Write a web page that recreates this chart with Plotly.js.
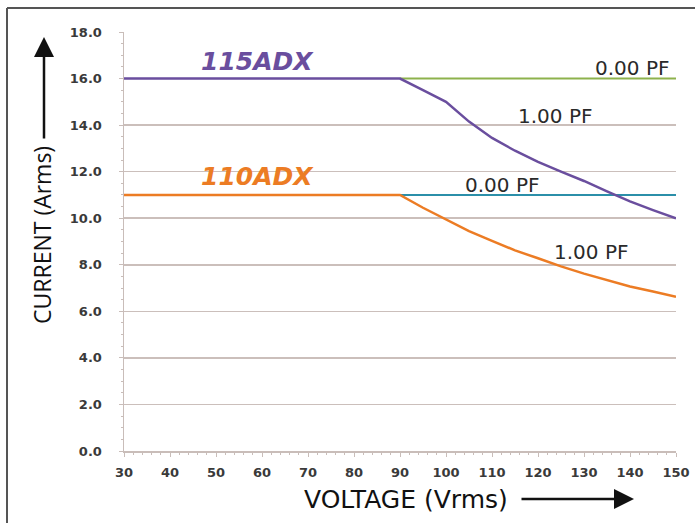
<!DOCTYPE html>
<html>
<head>
<meta charset="utf-8">
<script src="https://cdn.plot.ly/plotly-3.0.1.min.js"></script>
<style>
  html, body { margin: 0; padding: 0; background: #ffffff; }
  #chart { width: 695px; height: 523px; }
</style>
</head>
<body>
<div id="chart"></div>
<script>
// Voltage (Vrms) sample points
const voltage = [30, 90, 95, 100, 105, 110, 115, 120, 125, 130, 135, 140, 145, 150];
// 115ADX, 1.00 PF current (Arms)
const current115pf100 = [16.0, 16.0, 15.5, 15.0, 14.15, 13.45, 12.9, 12.42, 12.0, 11.6, 11.15, 10.72, 10.35, 10.0];
// 110ADX, 1.00 PF current (Arms)
const current110pf100 = [11.0, 11.0, 10.45, 9.95, 9.45, 9.03, 8.62, 8.28, 7.93, 7.62, 7.34, 7.07, 6.85, 6.63];
// 0.00 PF lines
const voltagePf0 = [90, 150];
const current115pf0 = [16.0, 16.0];
const current110pf0 = [11.0, 11.0];

const xTicks = [30, 40, 50, 60, 70, 80, 90, 100, 110, 120, 130, 140, 150];
const yTicks = [0, 2, 4, 6, 8, 10, 12, 14, 16, 18];

const seriesLabels = ['115ADX', '110ADX', '0.00 PF', '1.00 PF', '0.00 PF', '1.00 PF'];

const traces = [
  { x: voltagePf0, y: current115pf0, mode: 'lines', line: { color: '#8db24c', width: 2 }, name: '115ADX 0.00 PF' },
  { x: voltagePf0, y: current110pf0, mode: 'lines', line: { color: '#2b8fa9', width: 2 }, name: '110ADX 0.00 PF' },
  { x: voltage, y: current115pf100, mode: 'lines', line: { color: '#6a4e9e', width: 2.5 }, name: '115ADX 1.00 PF' },
  { x: voltage, y: current110pf100, mode: 'lines', line: { color: '#ec7c24', width: 2.5 }, name: '110ADX 1.00 PF' }
];

const W = 552, H = 419, L = 124, T = 32;
function px(x) { return (x - L) / W; }
function py(y) { return (T + H - y) / H; }

const labelFont = { family: 'DejaVu Sans', size: 20, color: '#2a2a2a' };
const mid = { xanchor: 'center', yanchor: 'middle', showarrow: false };

const layout = {
  width: 695, height: 523,
  margin: { l: 124, r: 19, t: 32, b: 72, pad: 0 },
  paper_bgcolor: '#ffffff', plot_bgcolor: '#ffffff',
  showlegend: false,
  xaxis: {
    range: [30, 150], tickvals: xTicks, ticktext: xTicks.map(String),
    showgrid: false, zeroline: false,
    showline: true, linecolor: '#c9bdb9', linewidth: 1.5,
    ticks: 'outside', ticklen: 4, tickcolor: '#c9bdb9', tickwidth: 1,
    minor: { dtick: 2, ticks: 'outside', ticklen: 2, tickcolor: '#c9bdb9' },
    ticklabelstandoff: 5,
    tickfont: { family: 'DejaVu Sans', size: 13, weight: 'bold', color: '#3a3a3a' }
  },
  yaxis: {
    range: [0, 18], tickvals: yTicks, ticktext: yTicks.map(v => v.toFixed(1)),
    showgrid: true, gridcolor: '#cbbfbb', gridwidth: 1.5,
    zeroline: false,
    showline: true, linecolor: '#c9bdb9', linewidth: 1.5,
    ticks: 'outside', ticklen: 4, tickcolor: '#c9bdb9',
    minor: { dtick: 0.5, ticks: 'outside', ticklen: 2, tickcolor: '#c9bdb9' },
    ticklabelstandoff: 14,
    tickfont: { family: 'DejaVu Sans', size: 13, weight: 'bold', color: '#3a3a3a' }
  },
  shapes: [
    { type: 'line', xref: 'paper', yref: 'paper', x0: px(7), x1: px(7), y0: py(8), y1: py(530), line: { color: '#555555', width: 2 } },
    { type: 'line', xref: 'paper', yref: 'paper', x0: px(7), x1: px(700), y0: py(8), y1: py(8), line: { color: '#555555', width: 2 } }
  ],
  annotations: [
    Object.assign({ xref: 'x', yref: 'y', x: 59.1, y: 16.75, text: seriesLabels[0],
      font: { family: 'DejaVu Sans', size: 25, weight: 'bold', style: 'italic', color: '#6a4e9e' } }, mid),
    Object.assign({ xref: 'x', yref: 'y', x: 59.1, y: 11.8, text: seriesLabels[1],
      font: { family: 'DejaVu Sans', size: 25, weight: 'bold', style: 'italic', color: '#ec7c24' } }, mid),
    Object.assign({ xref: 'x', yref: 'y', x: 140.4, y: 16.45, text: seriesLabels[2], font: labelFont }, mid),
    Object.assign({ xref: 'x', yref: 'y', x: 123.7, y: 14.39, text: seriesLabels[3], font: labelFont }, mid),
    Object.assign({ xref: 'x', yref: 'y', x: 112.2, y: 11.43, text: seriesLabels[4], font: labelFont }, mid),
    Object.assign({ xref: 'x', yref: 'y', x: 131.5, y: 8.55, text: seriesLabels[5], font: labelFont }, mid),
    // axis titles
    Object.assign({ xref: 'paper', yref: 'paper', x: px(406), y: py(499), text: 'VOLTAGE (Vrms)',
      font: { family: 'DejaVu Sans', size: 25, color: '#111111' } }, mid),
    Object.assign({ xref: 'paper', yref: 'paper', x: px(42), y: py(235), text: 'CURRENT (Arms)', textangle: -90,
      font: { family: 'Open Sans', size: 23, color: '#111111' } }, mid),
    // arrows
    { xref: 'paper', yref: 'paper', x: px(634), y: py(499), ax: -114, ay: 0, text: '', showarrow: true,
      arrowhead: 2, arrowsize: 1.6, arrowwidth: 2.5, arrowcolor: '#111111' },
    { xref: 'paper', yref: 'paper', x: px(44), y: py(37), ax: 0, ay: 103, text: '', showarrow: true,
      arrowhead: 2, arrowsize: 1.6, arrowwidth: 2.5, arrowcolor: '#111111' }
  ]
};

Plotly.newPlot('chart', traces, layout, { staticPlot: true, displayModeBar: false });
</script>
</body>
</html>
